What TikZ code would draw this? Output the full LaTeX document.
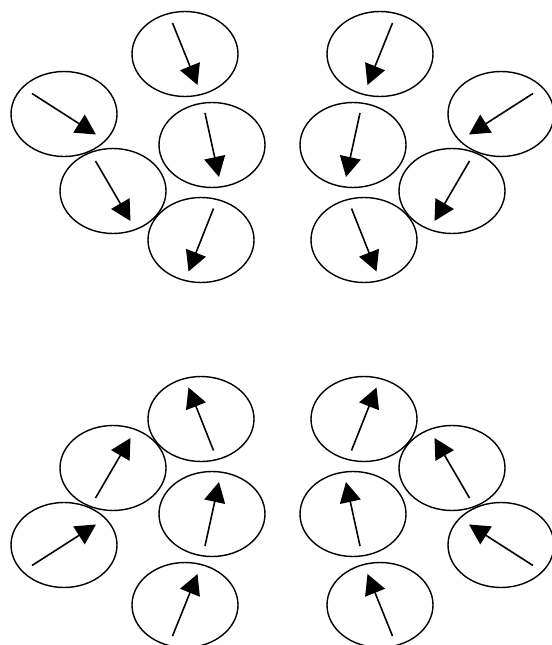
\documentclass[tikz,border=0pt]{standalone}
\usepackage{tikz}
\usetikzlibrary{arrows.meta}

\begin{document}
\begin{tikzpicture}[x=.02cm,y=-.02cm,
  cell/.style={line width=.8pt},
  spin/.style={line width=.9pt,-{Triangle[length=11.5pt,width=12pt]}}]
\useasboundingbox (0,0) rectangle (551,645);
% four mirrored groups of five domains
\foreach \sx/\sy/\ox/\oy in {1/1/0/0,-1/1/565/0,1/-1/0/659,-1/-1/565/659}{
  \begin{scope}[shift={(\ox,\oy)},xscale=\sx,yscale=\sy]
  \foreach \cx/\cy/\dx/\dy in {185/54/12.5/31,64/114/32/20.5,113/191/17.5/30,
                              212/145/7/32,201/240/-12.5/31.5}{
    \draw[cell] (\cx,\cy) ellipse [x radius=53,y radius=42.5];
    \draw[spin] (\cx-\dx,\cy-\dy) -- (\cx+\dx,\cy+\dy);
  }
  \end{scope}
}
\end{tikzpicture}
\end{document}
